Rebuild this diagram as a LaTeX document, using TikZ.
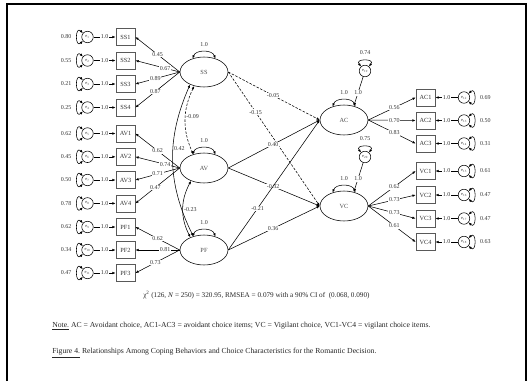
\documentclass[tikz,border=0pt]{standalone}
\usepackage{fontspec}
\setmainfont{Liberation Serif}
\usepackage{tikz}
\usetikzlibrary{calc, positioning, arrows.meta, shapes.geometric}

\begin{document}
\begin{tikzpicture}[
    x=1pt, y=-1pt,
    >={Latex[length=3.2pt, width=2.6pt]},
    line width=0.55pt,
    item/.style={draw=black!65, line width=0.8pt, rectangle, minimum width=19pt, minimum height=17pt, inner sep=0pt, fill=white, font=\fontsize{6.3}{7}\selectfont, text=black!80},
    latent/.style={draw, ellipse, minimum width=48pt, minimum height=30pt, inner sep=0pt, font=\fontsize{6.3}{7}\selectfont, text=black!70},
    err/.style={draw, circle, minimum size=11.5pt, inner sep=0pt, font=\fontsize{4.5}{5}\selectfont, text=black!75},
    num/.style={font=\fontsize{6}{6}\selectfont, text=black!80, inner sep=0.8pt},
    lbl/.style={num, fill=white},
    caption/.style={font=\fontsize{7.7}{9}\selectfont, text=black!85, inner sep=0pt, anchor=west},
]
    \useasboundingbox (0,0) rectangle (531,381);
    \draw[line width=1.3pt] (7,381) -- (7,4) -- (526,4) -- (526,381);

    % Latent variables
    \node[latent] (SS) at (204,72) {SS};
    \node[latent] (AV) at (204,168) {AV};
    \node[latent] (PF) at (204,250) {PF};
    \node[latent] (AC) at (344,120) {AC};
    \node[latent] (VC) at (344,206) {VC};

    \foreach \lat in {SS, AV, PF, AC, VC} {
        \draw[<->] (\lat.130) .. controls +(3,-9) and +(-3,-9) .. (\lat.50);
        \node[num] at ($(\lat.north)+(0,-12)$) {1.0};
    }

    % Coping indicators
    \foreach \ind/\y/\lat/\load/\pl/\var/\k in {
        SS1/37/SS/0.45/0.5/0.80/1, SS2/60.5/SS/0.67/0.33/0.55/2,
        SS3/84/SS/0.89/0.55/0.21/3, SS4/107.5/SS/0.87/0.55/0.25/4,
        AV1/133.5/AV/0.62/0.5/0.62/5, AV2/156.8/AV/0.74/0.33/0.45/6,
        AV3/180/AV/0.71/0.5/0.50/7, AV4/203.4/AV/0.47/0.55/0.78/8,
        PF1/227/PF/0.62/0.5/0.62/9, PF2/250/PF/0.81/0.33/0.34/10,
        PF3/273/PF/0.73/0.55/0.47/11} {
        \node[item] (\ind) at (125.5,\y) {\ind};
        \node[err] (e\k) at (87.5,\y) {e\textsubscript{\k}};
        \draw[->] (e\k) -- (\ind) node[lbl, midway] {1.0};
        \draw[<->] (e\k.140) .. controls +(-8,-8) and +(-8,8) .. (e\k.220);
        \node[num, left=9pt of e\k] {\var};
        \draw[->] (\lat.west) -- (\ind.east) node[lbl, pos=\pl] {\load};
    }

    % Choice indicators
    \foreach \ind/\y/\lat/\load/\var/\k in {
        AC1/97.5/AC/0.56/0.69/12, AC2/120.5/AC/0.70/0.50/13, AC3/143.5/AC/0.83/0.31/14,
        VC1/171/VC/0.62/0.61/15, VC2/195/VC/0.73/0.47/16,
        VC3/218.5/VC/0.73/0.47/17, VC4/242/VC/0.61/0.63/18} {
        \node[item] (\ind) at (425.5,\y) {\ind};
        \node[err] (e\k) at (464,\y) {e\textsubscript{\k}};
        \draw[->] (e\k) -- (\ind) node[lbl, midway] {1.0};
        \draw[<->] (e\k.40) .. controls +(8,-8) and +(8,8) .. (e\k.320);
        \node[num, right=9pt of e\k] {\var};
        \draw[->] (\lat.east) -- (\ind.west) node[lbl, pos=0.55] {\load};
    }

    % Disturbances
    \foreach \lat/\y/\var/\k in {AC/71/0.74/19, VC/157/0.75/20} {
        \node[err] (e\k) at (365,\y) {e\textsubscript{\k}};
        \draw[<->] (e\k.130) .. controls +(-7,-8) and +(7,-8) .. (e\k.50);
        \node[num, above=9pt of e\k] {\var};
        \draw[->] (e\k) -- (\lat.55) node[lbl, pos=0.55] {1.0};
    }

    % Covariances
    \draw[<->, dash pattern=on 2.5pt off 1.5pt] (SS.235) to[bend right=25] node[num, pos=0.45, right] {-0.09} (AV.128);
    \draw[<->] (SS.222) to[bend right=25] node[num, pos=0.42, right] {0.42} (PF.128);
    \draw[<->] (AV.225) to[bend right=28] node[num, pos=0.5, right] {-0.23} (PF.137);

    % Structural paths
    \draw[->, dash pattern=on 2.5pt off 1.5pt] (SS.east) -- (AC.west) node[lbl, pos=0.49] {-0.05};
    \draw[->, dash pattern=on 2.5pt off 1.5pt] (SS.east) -- (VC.west) node[lbl, pos=0.3] {-0.15};
    \draw[->] (AV.east) -- (AC.west) node[lbl, pos=0.49] {0.40};
    \draw[->] (AV.east) -- (VC.west) node[lbl, pos=0.49] {-0.32};
    \draw[->] (PF.east) -- (AC.west) node[lbl, pos=0.32] {-0.21};
    \draw[->] (PF.east) -- (VC.west) node[lbl, pos=0.49] {0.36};

    % Fit and captions
    \node[caption, font=\fontsize{7.2}{9}\selectfont] (fit) at (143,295) {χ\textsuperscript{2} (126, \textit{N} = 250) = 320.95, RMSEA = 0.079 with a 90\% CI of \ (0.068, 0.090)};
    \node[caption] (note) at (52,326) {\underline{Note.} AC = Avoidant choice, AC1-AC3 = avoidant choice items; VC = Vigilant choice, VC1-VC4 = vigilant choice items.};
    \node[caption] (figcap) at (52,353) {\underline{Figure 4.} Relationships Among Coping Behaviors and Choice Characteristics for the Romantic Decision.};

\end{tikzpicture}
\end{document}
